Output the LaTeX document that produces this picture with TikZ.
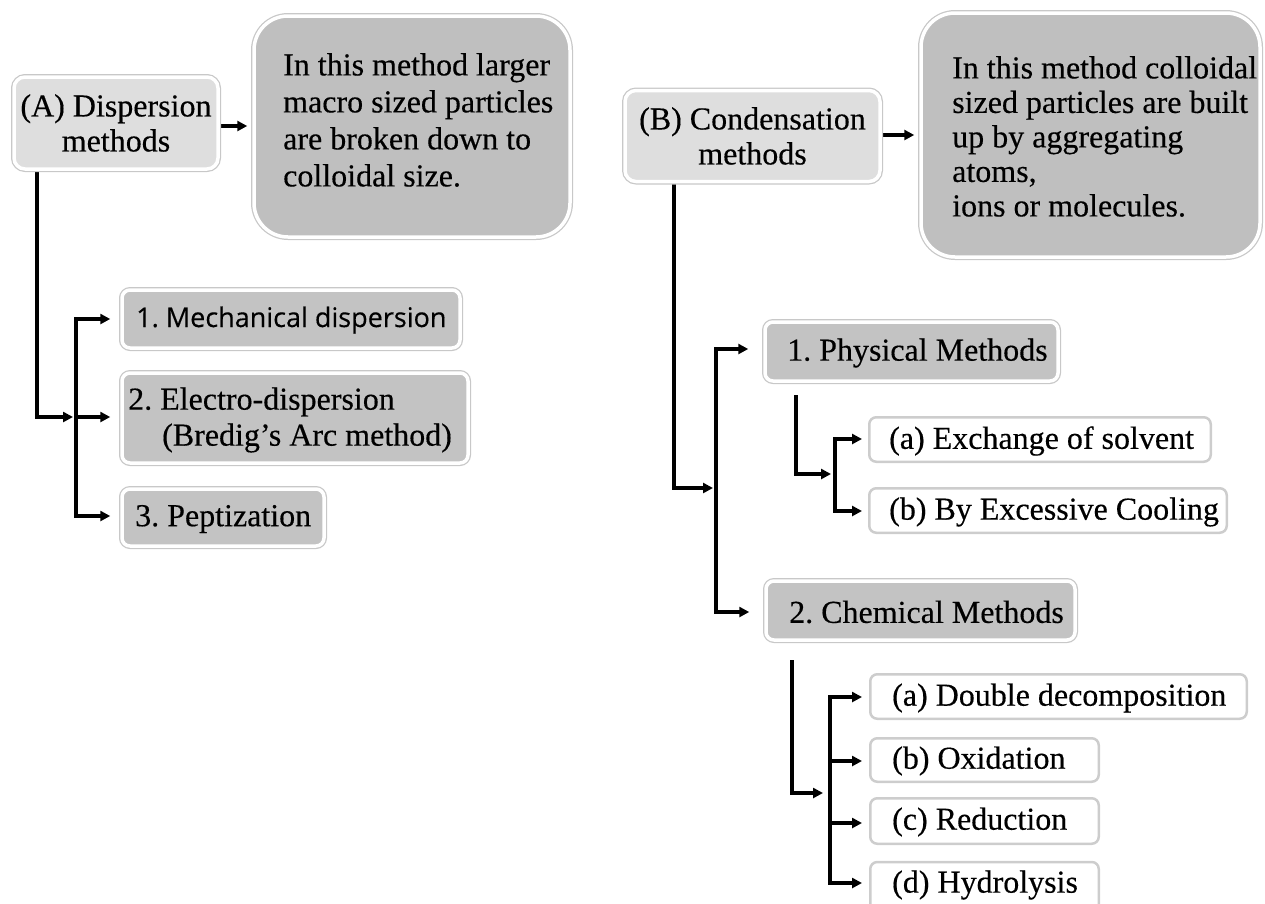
\documentclass[tikz,border=0pt]{standalone}
\usepackage{fontspec}
\setmainfont{Liberation Serif}[FakeBold=0.35]
\newfontfamily\sansfont{Open Sans}[FakeBold=0.3]
\usetikzlibrary{arrows.meta,backgrounds}
\frenchspacing
\definecolor{topfill}{HTML}{DEDEDE}
\definecolor{bigfill}{HTML}{BFBFBF}
\definecolor{midfill}{HTML}{C3C3C3}
\definecolor{edgegray}{HTML}{C8C8C8}
\definecolor{leafedge}{HTML}{CDCDCD}
\tikzset{
  framed/.style={rounded corners=#1, draw=white, line width=3.5pt,
                 preaction={draw=edgegray, line width=6pt}},
  topbox/.style={framed=11pt, fill=topfill, inner sep=0pt},
  bigbox/.style={framed=34pt, fill=bigfill, inner sep=0pt},
  midbox/.style={framed=8pt, fill=midfill, inner sep=0pt},
  leafbox/.style={rounded corners=7pt, draw=leafedge, line width=2.5pt, fill=white, inner sep=0pt},
  txt/.style={inner sep=0pt, font=\fontsize{32}{36}\selectfont},
  sanstxt/.style={inner sep=0pt, font=\sansfont\fontsize{27}{31}\selectfont},
  conn/.style={line width=3.1pt, line join=miter, -{Triangle[length=10pt,width=10pt]}},
}
\begin{document}
\begin{tikzpicture}[x=1pt,y=-1pt]
\useasboundingbox (0,0) rectangle (1265,903);

% ---------- left part ----------
\node[topbox, minimum width=204pt, minimum height=92pt, align=center,
      font=\fontsize{32}{35}\selectfont] (A) at (116,123) {(A) Dispersion\\methods};
\node[bigbox, minimum width=316pt, minimum height=221pt] (D1) at (412,126.5) {};
\node[txt, align=left, anchor=north west, font=\fontsize{32}{37}\selectfont] (D1t) at (283,53)
  {In this method larger\\macro sized particles\\are broken down to\\colloidal size.};

\node[midbox, minimum width=338pt, minimum height=58pt] (M1) at (291,319) {};
\node[sanstxt, anchor=west] (M1t) at (136,320) {1. Mechanical dispersion};
\node[midbox, minimum width=346pt, minimum height=90pt] (M2) at (295,418) {};
\node[txt, align=left, anchor=west] (M2t) at (128,420)
  {2. Electro-dispersion\\\hspace*{34pt}(Bredig’s Arc method)};
\node[midbox, minimum width=202pt, minimum height=57pt] (M3) at (223,517.5) {};
\node[txt, anchor=west] (M3t) at (135,519) {3. Peptization};

% ---------- right part ----------
\node[topbox, minimum width=255pt, minimum height=91pt, align=center,
      font=\fontsize{32}{35}\selectfont] (B) at (752.5,136) {(B) Condensation\\methods};
\node[bigbox, minimum width=339pt, minimum height=244pt] (D2) at (1090.5,135) {};
\node[txt, align=left, anchor=north west, font=\fontsize{32}{34.5}\selectfont] (D2t) at (952,56)
  {In this method colloidal\\sized particles are built\\up by aggregating\\atoms,\\ions or molecules.};

\node[midbox, minimum width=293pt, minimum height=59pt] (P1) at (911.5,351.5) {};
\node[txt, anchor=west] (P1t) at (787,353) {1. Physical Methods};
\node[leafbox, minimum width=341.5pt, minimum height=44.5pt] (LA) at (1040,439.5) {};
\node[txt, anchor=west] (LAt) at (889,441) {(a) Exchange of solvent};
\node[leafbox, minimum width=357.5pt, minimum height=44.5pt] (LB) at (1048,510.5) {};
\node[txt, anchor=west] (LBt) at (889,512) {(b) By Excessive Cooling};

\node[midbox, minimum width=309pt, minimum height=59pt] (C1) at (920.5,610.5) {};
\node[txt, anchor=west] (C1t) at (789,612) {2. Chemical Methods};
\node[leafbox, minimum width=376.5pt, minimum height=44.5pt] (La) at (1058.5,696.5) {};
\node[txt, anchor=west] (Lat) at (892,698) {(a) Double decomposition};
\node[leafbox, minimum width=228.5pt, minimum height=43.5pt] (Lb) at (984.5,760) {};
\node[txt, anchor=west] (Lbt) at (892,761) {(b) Oxidation};
\node[leafbox, minimum width=228.5pt, minimum height=45.5pt] (Lc) at (984.5,821) {};
\node[txt, anchor=west] (Lct) at (892,822) {(c) Reduction};
\node[leafbox, minimum width=228.5pt, minimum height=56pt] (Ld) at (984.5,890) {};
\node[txt, anchor=west] (Ldt) at (892,885) {(d) Hydrolysis};

% ---------- junction points ----------
\coordinate (jA) at (37,417);
\coordinate (bus1m) at (76,417);
\coordinate (b1t) at (76,319);
\coordinate (b1b) at (76,516);

\coordinate (jB) at (674,488);
\coordinate (bus2m) at (716,488);
\coordinate (b2t) at (716,349);
\coordinate (b2b) at (716,612);

\coordinate (p1) at (796,395);
\coordinate (jP) at (796,474);
\coordinate (bus3m) at (835,474);
\coordinate (b3t) at (835,439);
\coordinate (b3b) at (835,511);

\coordinate (c1) at (792,660);
\coordinate (jC) at (792,793);
\coordinate (bus4m) at (830,793);
\coordinate (b4a) at (830,697);
\coordinate (b4b) at (830,761);
\coordinate (b4c) at (830,823);
\coordinate (b4d) at (830,883);

\begin{pgfonlayer}{background}
  % left
  \draw[conn, shorten >=5pt] (A.east |- 0,126) -- (D1.west |- 0,126);
  \draw[conn, shorten >=3pt] (A.south -| jA) -- (jA) -- (bus1m);
  \draw[conn, shorten >=10pt] (b1b) -- (b1t) -- (b1t -| M1.west);
  \draw[conn, shorten >=10pt] (bus1m) -- (bus1m -| M2.west);
  \draw[conn, shorten >=10pt] (b1t) -- (b1b) -- (b1b -| M3.west);
  % right
  \draw[conn, shorten >=5pt] (B.east |- 0,135) -- (D2.west |- 0,135);
  \draw[conn, shorten >=3pt] (B.south -| jB) -- (jB) -- (bus2m);
  \draw[conn, shorten >=15pt] (b2b) -- (b2t) -- (b2t -| P1.west);
  \draw[conn, shorten >=15pt] (b2t) -- (b2b) -- (b2b -| C1.west);
  \draw[conn, shorten >=4pt] (p1) -- (jP) -- (bus3m);
  \draw[conn, shorten >=6pt] (b3b) -- (b3t) -- (b3t -| LA.west);
  \draw[conn, shorten >=6pt] (b3t) -- (b3b) -- (b3b -| LB.west);
  \draw[conn, shorten >=7pt] (c1) -- (jC) -- (bus4m);
  \draw[conn, shorten >=7pt] (b4d) -- (b4a) -- (b4a -| La.west);
  \draw[conn, shorten >=7pt] (b4b) -- (b4b -| Lb.west);
  \draw[conn, shorten >=7pt] (b4c) -- (b4c -| Lc.west);
  \draw[conn, shorten >=7pt] (b4a) -- (b4d) -- (b4d -| Ld.west);
\end{pgfonlayer}
\end{tikzpicture}
\end{document}
